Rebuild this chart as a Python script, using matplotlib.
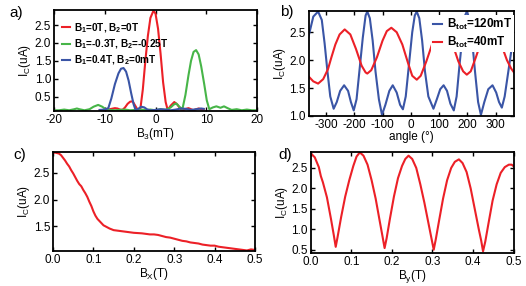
import matplotlib
matplotlib.use("Agg")
import matplotlib.pyplot as plt

plt.rcParams['font.family'] = ['Liberation Sans', 'DejaVu Sans']
plt.rcParams['mathtext.fontset'] = 'custom'
plt.rcParams['mathtext.rm'] = 'Liberation Sans'
plt.rcParams['mathtext.bf'] = 'Liberation Sans:bold'
plt.rcParams['axes.unicode_minus'] = False

RED = '#ec2027'
BLUE = '#3a55a6'
GREEN = '#47b548'

# ---------- panel a data ----------
a_red_x = [-11, -10, -9, -8, -7.5, -7, -6.5, -6, -5.5, -5, -4.5, -4, -3.5, -3, -2.5, -2, -1.5, -1,
           -0.4, 0, 0.5, 1, 1.5, 2, 2.4, 3, 3.7, 4.3, 5, 5.5, 6, 6.5, 7, 7.5, 8, 8.5, 9, 9.5]
a_red_y = [0.12, 0.13, 0.15, 0.18, 0.17, 0.14, 0.13, 0.2, 0.3, 0.36, 0.37, 0.25, 0.13, 0.14, 0.7, 1.5, 2.2, 2.7,
           2.9, 2.82, 2.4, 1.7, 0.9, 0.35, 0.13, 0.25, 0.35, 0.28, 0.14, 0.13, 0.16, 0.18, 0.15, 0.12, 0.15, 0.17, 0.15, 0.15]

a_blue_x = [-11, -10, -9.3, -8.7, -8, -7.3, -6.8, -6.3, -5.8, -5.3, -4.8, -4.3, -3.9, -3.4, -2.8, -2.2, -1.6, -1,
            0, 1, 2, 3, 4, 5, 6, 7, 8, 9, 9.5]
a_blue_y = [0.13, 0.14, 0.18, 0.45, 0.85, 1.15, 1.28, 1.3, 1.2, 0.95, 0.6, 0.28, 0.12, 0.16, 0.22, 0.2, 0.14, 0.12,
            0.13, 0.15, 0.14, 0.12, 0.14, 0.17, 0.16, 0.13, 0.15, 0.17, 0.16]

a_green_x = [-20, -19, -18, -17, -16, -15.5, -15, -14, -13, -12.2, -11.3, -10.5, -9.8, -9, -8, -7, -6, -5, -4,
             -3, -2, -1, 0, 1, 2, 3, 3.6, 4.1, 4.7, 5.3, 5.9, 6.5, 7.0, 7.5, 8.0, 8.5, 9.0, 9.6, 10.1, 10.6,
             11.3, 12, 12.8, 13.5, 14.2, 15, 16, 17, 18, 19, 20]
a_green_y = [0.12, 0.12, 0.14, 0.12, 0.15, 0.17, 0.15, 0.12, 0.15, 0.22, 0.27, 0.22, 0.15, 0.13, 0.12, 0.13, 0.14, 0.12, 0.13,
             0.14, 0.13, 0.14, 0.12, 0.15, 0.13, 0.2, 0.28, 0.31, 0.22, 0.15, 0.55, 1.1, 1.5, 1.75, 1.8, 1.68, 1.35, 0.85, 0.4, 0.15,
             0.2, 0.23, 0.19, 0.23, 0.18, 0.13, 0.15, 0.12, 0.14, 0.12, 0.12]

# ---------- panel b data ----------
b_blue_x = [-362, -345, -328, -315, -305, -295, -285, -273, -262, -250, -236, -222, -212, -202, -192, -182,
            -170, -160, -154, -145, -135, -125, -113, -102, -90, -76, -64, -50, -38, -28, -18, -7, 5, 14, 21,
            30, 40, 50, 62, 80, 92, 104, 116, 128, 140, 152, 162, 172, 183, 192, 198, 207, 217, 227, 238,
            248, 260, 274, 289, 302, 312, 322, 332, 345, 355, 365]
b_blue_y = [2.42, 2.78, 2.87, 2.72, 2.3, 1.8, 1.35, 1.13, 1.25, 1.45, 1.55, 1.45, 1.25, 1.1, 1.3, 1.8,
            2.4, 2.8, 2.87, 2.75, 2.35, 1.8, 1.3, 1.02, 1.2, 1.45, 1.55, 1.42, 1.2, 1.12, 1.35, 1.9, 2.5, 2.8, 2.87,
            2.75, 2.35, 1.8, 1.35, 1.13, 1.3, 1.48, 1.55, 1.45, 1.22, 1.1, 1.35, 1.9, 2.45, 2.8, 2.87, 2.75, 2.35, 1.8, 1.25,
            1.02, 1.25, 1.48, 1.55, 1.42, 1.25, 1.15, 1.35, 1.8, 2.15, 2.38]

b_red_x = [-362, -345, -328, -310, -293, -281, -267, -252, -234, -214, -194, -174, -160, -154, -140, -120, -100,
           -85, -69, -50, -30, -10, 5, 21, 35, 55, 75, 92, 110, 128, 148, 168, 185, 198, 212, 230, 250, 268,
           285, 302, 320, 340, 355, 365]
b_red_y = [1.71, 1.62, 1.58, 1.66, 1.84, 2.05, 2.28, 2.46, 2.55, 2.46, 2.2, 1.9, 1.78, 1.76, 1.82, 2.05, 2.35,
           2.52, 2.58, 2.5, 2.28, 1.95, 1.72, 1.65, 1.72, 1.98, 2.28, 2.48, 2.56, 2.5, 2.28, 1.98, 1.8, 1.74, 1.8, 2.05, 2.35, 2.52,
           2.56, 2.48, 2.28, 2.0, 1.85, 1.78]

# ---------- panel c data ----------
c_x = [0.0, 0.005, 0.01, 0.015, 0.02, 0.025, 0.03, 0.035, 0.04, 0.045, 0.05, 0.055, 0.06, 0.065, 0.07, 0.075,
       0.08, 0.085, 0.09, 0.095, 0.1, 0.105, 0.11, 0.115, 0.12, 0.125, 0.13, 0.14, 0.15, 0.16, 0.17, 0.18,
       0.19, 0.2, 0.21, 0.22, 0.23, 0.24, 0.25, 0.26, 0.27, 0.28, 0.29, 0.3, 0.31, 0.32, 0.33, 0.34, 0.35,
       0.36, 0.37, 0.38, 0.39, 0.4, 0.41, 0.42, 0.43, 0.44, 0.45, 0.46, 0.47, 0.48, 0.49, 0.5]
c_y = [2.87, 2.88, 2.87, 2.86, 2.83, 2.78, 2.73, 2.67, 2.62, 2.55, 2.49, 2.42, 2.35, 2.29, 2.25, 2.18,
       2.12, 2.05, 1.96, 1.88, 1.78, 1.7, 1.64, 1.6, 1.56, 1.52, 1.5, 1.46, 1.43, 1.42, 1.41, 1.4,
       1.39, 1.38, 1.375, 1.37, 1.36, 1.35, 1.35, 1.34, 1.32, 1.3, 1.29, 1.27, 1.25, 1.23, 1.22, 1.2, 1.19,
       1.18, 1.16, 1.15, 1.14, 1.14, 1.12, 1.11, 1.1, 1.09, 1.08, 1.07, 1.06, 1.05, 1.07, 1.06]

# ---------- panel d data ----------
d_x = [0.0, 0.01, 0.02, 0.025, 0.03, 0.04, 0.05, 0.057, 0.0616, 0.066, 0.075, 0.085, 0.095, 0.105, 0.113,
       0.121, 0.13, 0.14, 0.15, 0.16, 0.17, 0.177, 0.182, 0.187, 0.195, 0.205, 0.215, 0.225, 0.233, 0.241,
       0.25, 0.26, 0.27, 0.28, 0.29, 0.298, 0.303, 0.308, 0.316, 0.326, 0.336, 0.346, 0.355, 0.365, 0.374,
       0.384, 0.394, 0.404, 0.414, 0.42, 0.4245, 0.43, 0.438, 0.448, 0.458, 0.468, 0.478, 0.488, 0.495, 0.5]
d_y = [2.86, 2.76, 2.52, 2.3, 2.15, 1.78, 1.25, 0.85, 0.57, 0.8, 1.3, 1.8, 2.2, 2.55, 2.78,
       2.88, 2.8, 2.58, 2.2, 1.75, 1.2, 0.82, 0.54, 0.78, 1.25, 1.8, 2.25, 2.55, 2.72, 2.8,
       2.72, 2.5, 2.1, 1.65, 1.15, 0.75, 0.5, 0.75, 1.2, 1.75, 2.2, 2.5, 2.65, 2.71, 2.62,
       2.4, 2.0, 1.5, 1.0, 0.72, 0.46, 0.7, 1.15, 1.7, 2.1, 2.38, 2.52, 2.58, 2.58, 2.54]

fig = plt.figure(figsize=(5.26, 2.86), dpi=100)

ax_a = fig.add_axes([54/526, 1-111/286, 203/526, 101/286])
ax_b = fig.add_axes([308.5/526, 1-116/286, 205.5/526, 105/286])
ax_c = fig.add_axes([53/526, 1-251/286, 202/526, 99/286])
ax_d = fig.add_axes([310.7/526, 1-253/286, 203/526, 101/286])

LW = 1.5
TFS = 8.5
LFS = 8.5

def style(ax):
    ax.tick_params(direction='in', top=True, right=True, length=3, width=1, labelsize=TFS, pad=2)
    for s in ax.spines.values():
        s.set_linewidth(1.3)

# panel a
ax_a.plot(a_red_x, a_red_y, color=RED, lw=LW, label=r'$\mathbf{B_1}$=0T, $\mathbf{B_2}$=0T')
ax_a.plot(a_green_x, a_green_y, color=GREEN, lw=LW, label=r'$\mathbf{B_1}$=-0.3T, $\mathbf{B_2}$=-0.25T')
ax_a.plot(a_blue_x, a_blue_y, color=BLUE, lw=LW, label=r'$\mathbf{B_1}$=0.4T, $\mathbf{B_2}$=0mT')
ax_a.set_xlim(-20, 20)
ax_a.set_ylim(0.1, 2.92)
ax_a.set_xticks([-20, -10, 0, 10, 20])
ax_a.set_yticks([0.5, 1.0, 1.5, 2.0, 2.5])
ax_a.set_xlabel(r'B$_3$(mT)', fontsize=LFS, labelpad=0)
ax_a.set_ylabel(r'I$_\mathrm{C}$(uA)', fontsize=LFS, labelpad=1)
style(ax_a)
ax_a.legend(loc='upper left', prop={'weight': 'bold', 'size': 7.2}, frameon=False,
            handlelength=0.8, handletextpad=0.4, labelspacing=0.25, borderaxespad=0.0,
            borderpad=0.0, bbox_to_anchor=(0.04, 0.89))

# panel b
ax_b.plot(b_blue_x, b_blue_y, color=BLUE, lw=LW, label=r'$\mathbf{B_{tot}}$=120mT')
ax_b.plot(b_red_x, b_red_y, color=RED, lw=LW, label=r'$\mathbf{B_{tot}}$=40mT')
ax_b.set_xlim(-362, 365)
ax_b.set_ylim(1.0, 2.88)
ax_b.set_xticks([-300, -200, -100, 0, 100, 200, 300])
ax_b.set_yticks([1.0, 1.5, 2.0, 2.5])
ax_b.set_xlabel('angle (°)', fontsize=LFS, labelpad=0)
ax_b.set_ylabel(r'I$_\mathrm{C}$(uA)', fontsize=LFS, labelpad=1)
style(ax_b)
leg = ax_b.legend(loc='upper right', prop={'weight': 'bold', 'size': 8.5}, frameon=True,
                  handlelength=0.8, handletextpad=0.4, labelspacing=0.25, borderaxespad=0.0,
                  borderpad=0.15, fancybox=False, bbox_to_anchor=(1.0, 0.96))
leg.get_frame().set_edgecolor('none')
leg.get_frame().set_facecolor('white')
leg.get_frame().set_alpha(1)

# panel c
ax_c.plot(c_x, c_y, color=RED, lw=LW)
ax_c.set_xlim(0, 0.5)
ax_c.set_ylim(1.04, 2.89)
ax_c.set_xticks([0.0, 0.1, 0.2, 0.3, 0.4, 0.5])
ax_c.set_yticks([1.5, 2.0, 2.5])
ax_c.set_xlabel(r'B$_\mathrm{X}$(T)', fontsize=LFS, labelpad=0)
ax_c.set_ylabel(r'I$_\mathrm{C}$(uA)', fontsize=LFS, labelpad=1)
style(ax_c)

# panel d
ax_d.plot(d_x, d_y, color=RED, lw=LW)
ax_d.set_xlim(0, 0.5)
ax_d.set_ylim(0.42, 2.89)
ax_d.set_xticks([0.0, 0.1, 0.2, 0.3, 0.4, 0.5])
ax_d.set_yticks([0.5, 1.0, 1.5, 2.0, 2.5])
ax_d.set_xlabel(r'B$_\mathrm{y}$(T)', fontsize=LFS, labelpad=0)
ax_d.set_ylabel(r'I$_\mathrm{C}$(uA)', fontsize=LFS, labelpad=1)
style(ax_d)

# panel letters
for txt, x, y in [('a)', 9, 13), ('b)', 280, 12), ('c)', 13, 155), ('d)', 278, 155)]:
    fig.text(x/526, 1-y/286, txt, fontsize=11, ha='left', va='center')

fig.savefig('out.png', dpi=100)
